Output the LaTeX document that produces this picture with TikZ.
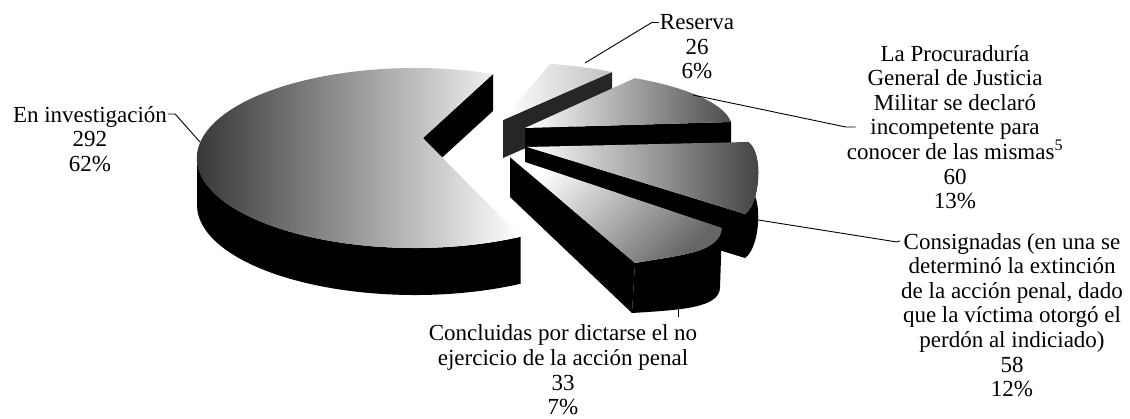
\documentclass[tikz,border=0pt]{standalone}
\usepackage{fontspec}
\setmainfont{Liberation Serif}
\begin{document}
\begin{tikzpicture}[x=1pt,y=1pt,
    lbl/.style={font=\fontsize{23}{24.6}\selectfont,align=center,inner sep=1pt},
    face/.style={fill=black}]
      \useasboundingbox (0,0) rectangle (1130,418);
      \fill[black!85] (503,298) -- (612,346) -- (612,308) -- (503,260) -- cycle;
      \shade[left color=white,right color=black!25] (503,298) -- (612,346)
        arc[start angle=56,end angle=76,x radius=195,y radius=58] -- cycle;
      \fill[face] (525,290) -- (731,296) -- (731,256) -- (525,250) -- cycle;
      \shade[left color=white,middle color=black!20,right color=black!70] (525,290) -- (731,296)
        arc[start angle=6,end angle=58,x radius=207,y radius=59] -- cycle;
      \fill[face] (745,160) .. controls (760,170) and (764,222) .. (748,232) -- (748,276)
        .. controls (764,266) and (760,214) .. (745,204) -- cycle;
      \fill[face] (527,271) -- (745,204) -- (745,160) -- (527,227) -- cycle;
      \shade[left color=white,middle color=black!20,right color=black!75] (527,271) -- (745,204)
        .. controls (760,214) and (764,266) .. (748,276) -- cycle;
      \fill[face] (635,155) .. controls (680,163) and (720,165) .. (722,190) -- (720,130)
        .. controls (719,110) and (680,108) .. (632,105) -- cycle;
      \fill[face] (510,261) -- (635,155) -- (632,105) -- (510,221) -- cycle;
      \shade[top color=white,bottom color=black!60,shading angle=45] (510,261) -- (635,155)
        .. controls (680,163) and (720,165) .. (722,190) -- cycle;
      \shade[left color=black,middle color=black!70,right color=black] (197,260)
        arc[start angle=180,end angle=299,x radius=218,y radius=90] -- ++(0,-47)
        arc[start angle=299,end angle=180,x radius=218,y radius=90] -- cycle;
      \fill[face] (423,280) -- (493,344) -- (493,307) -- (423,243) -- cycle;
      \shade[left color=black!85,middle color=black!40,right color=white] (423,280) -- (493,344)
        arc[start angle=69,end angle=299,x radius=218,y radius=90] -- cycle;
      \coordinate (pinv) at (200,276);
      \coordinate (pres) at (585,355);
      \coordinate (pproc) at (693,323);
      \coordinate (pcons) at (752,199);
      \coordinate (pconcl) at (678,118);
      \draw
        (90,279) node[lbl] (inv) {En investigación\\292\\62\%}
        (697,371) node[lbl] (res) {Reserva\\26\\6\%}
        (955,291) node[lbl] (proc) {La Procuraduría\\General de Justicia\\Militar se declaró\\incompetente para\\conocer de las mismas\textsuperscript{5}\\60\\13\%}
        (1012,103) node[lbl] (cons) {Consignadas (en una se\\determinó la extinción\\de la acción penal, dado\\que la víctima otorgó el\\perdón al indiciado)\\58\\12\%}
        (563,48) node[lbl] (concl) {Concluidas por dictarse el no\\ejercicio de la acción penal\\33\\7\%};
      \begin{scope}[line width=0.9pt]
        \draw ([yshift=-9pt]inv.north east) -- ++(7,0) -- (pinv);
        \draw ([yshift=-9pt]res.north west) -- ++(-7,0) -- (pres);
        \draw (pproc) -- (proc.west) -- ++(10,0);
        \draw (pcons) -- ++(145,-23) -- ([yshift=-9pt]cons.north west);
        \draw (pconcl) -- ([yshift=7pt]pconcl |- concl.north);
      \end{scope}
    \end{tikzpicture}
\end{document}
